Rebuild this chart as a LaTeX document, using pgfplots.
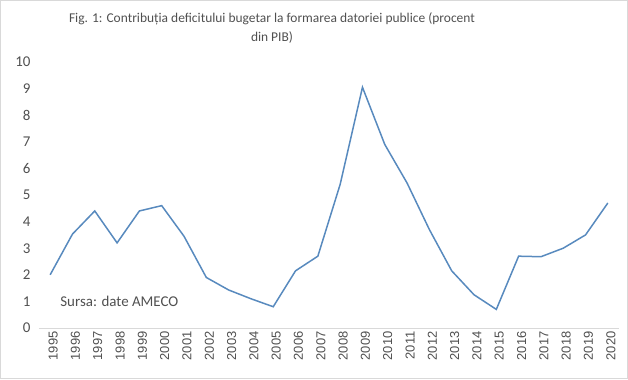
\documentclass[border=0pt]{standalone}
\usepackage{pgfplots}
\pgfplotsset{compat=1.18}
\usepackage{fontspec}
\setmainfont{Carlito}
\newfontfamily\arialf{Liberation Sans}
\definecolor{linec}{RGB}{88,138,190}
\definecolor{txt}{RGB}{80,80,80}
\definecolor{axc}{RGB}{217,217,217}
\begin{document}
\begin{tikzpicture}[x=1bp,y=1bp]
\begin{axis}[
  at={(0,0)}, anchor=south west,
  scale only axis, width=580bp, height=266bp,
  xmin=1994.5, xmax=2020.5, ymin=0, ymax=10,
  axis line style={draw=none},
  axis x line*=bottom, axis y line*=left,
  xtick={1995,...,2020}, ytick={0,...,10},
  major tick length=0pt,
  xticklabel style={font=\arialf\fontsize{13}{13}\selectfont, rotate=90, anchor=east, color=txt, yshift=-3bp},
  yticklabel style={font=\fontsize{15}{15}\selectfont, color=txt, xshift=-5bp},
  /pgf/number format/assume math mode=true,
  xticklabel={\pgfmathprintnumber[1000 sep={},fixed]{\tick}},
  clip=false,
]
\draw[axc, line width=0.8bp] (axis cs:1994.5,0) -- (axis cs:2020.5,0);
\addplot[linec, line width=1.5bp, mark=none] coordinates {
(1995,2.0) (1996,3.53) (1997,4.4) (1998,3.2) (1999,4.4) (2000,4.6)
(2001,3.45) (2002,1.9) (2003,1.43) (2004,1.1) (2005,0.8) (2006,2.15)
(2007,2.7) (2008,5.4) (2009,9.05) (2010,6.9) (2011,5.45) (2012,3.7)
(2013,2.15) (2014,1.25) (2015,0.7) (2016,2.7) (2017,2.68) (2018,3.0)
(2019,3.5) (2020,4.7)};
\node[anchor=west, color=txt, font=\fontsize{15}{15}\selectfont] at (axis cs:1995.3,1.0) {Sursa: date AMECO};
\end{axis}
\pgfresetboundingbox
\useasboundingbox (-39,-51) rectangle (589,328);
\draw[axc, line width=1bp] (-38.5,-50.5) rectangle (588.5,327.5);
\node[color=txt, font=\fontsize{13.5}{20}\selectfont, align=center] at (233,300) {Fig. 1: Contribuția deficitului bugetar la formarea datoriei publice (procent\\din PIB)};
\end{tikzpicture}
\end{document}
